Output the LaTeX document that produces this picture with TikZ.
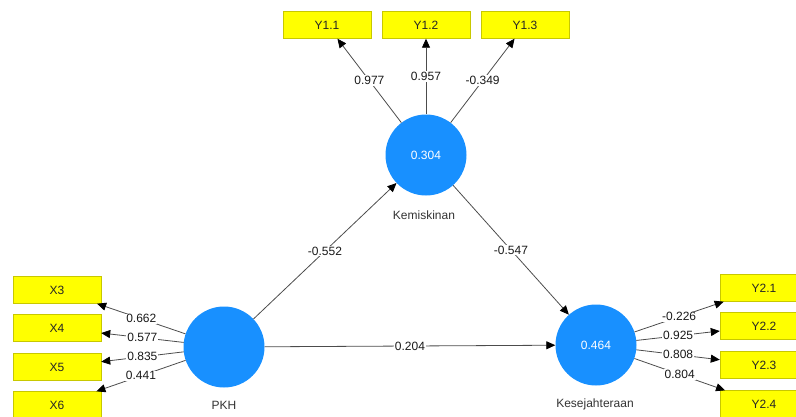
\documentclass[tikz,border=0pt]{standalone}
\usepackage{fontspec}
\setmainfont{Liberation Sans}
\usetikzlibrary{arrows.meta}
\definecolor{lvblue}{HTML}{1890FF}
\definecolor{indyellow}{HTML}{FFFF00}
\definecolor{indborder}{HTML}{C8C800}
\begin{document}
\begin{tikzpicture}[x=1pt,y=-1pt,
    latent/.style={circle,fill=lvblue,minimum size=81pt,inner sep=0pt,text=white,font=\fontsize{12}{14}\selectfont},
    indicator/.style={rectangle,fill=indyellow,draw=indborder,minimum width=88pt,minimum height=27pt,inner sep=0pt,text=black!85,font=\fontsize{12}{14}\selectfont},
    pathline/.style={draw=black!70,line width=0.8pt,-{Triangle[length=9pt,width=8pt,color=black]}},
    coef/.style={fill=white,inner sep=1pt,text=black!90,font=\fontsize{12}{14}\selectfont},
    lvname/.style={text=black!80,font=\fontsize{12}{14}\selectfont}]
  \useasboundingbox (0,0) rectangle (796,416);

  % latent variables
  \node[latent] (kem) at (426,155) {0.304};
  \node[latent] (pkh) at (224,347) {};
  \node[latent] (kes) at (596,345) {0.464};
  \node[lvname] (kemname) at (424,215) {Kemiskinan};
  \node[lvname] (pkhname) at (224,405) {PKH};
  \node[lvname] (kesname) at (595,404) {Kesejahteraan};

  % indicators
  \foreach[count=\i] \x in {327,426,525} {
    \node[indicator] (y1\i) at (\x,25) {Y1.\i};
  }
  \foreach[count=\i,evaluate={int(\i+2)} as \n] \y in {290,328,367,405} {
    \node[indicator] (x\i) at (57,\y) {X\n};
  }
  \foreach[count=\i] \y in {288,326,365,404} {
    \node[indicator] (y2\i) at (764,\y) {Y2.\i};
  }

  % outer loadings
  \foreach[count=\i] \v in {0.977,0.957,-0.349} {
    \draw[pathline] (kem) -- (y1\i) node[coef,midway] {\v};
  }
  \foreach[count=\i] \v in {0.662,0.577,0.835,0.441} {
    \draw[pathline] (pkh) -- (x\i) node[coef,midway] {\v};
  }
  \foreach[count=\i] \v in {-0.226,0.925,0.808,0.804} {
    \draw[pathline] (kes) -- (y2\i) node[coef,midway] {\v};
  }

  % path coefficients
  \draw[pathline] (pkh) -- (kem) node[coef,midway] {-0.552};
  \draw[pathline] (kem) -- (kes) node[coef,midway] {-0.547};
  \draw[pathline] (pkh) -- (kes) node[coef,midway] {0.204};
\end{tikzpicture}
\end{document}
